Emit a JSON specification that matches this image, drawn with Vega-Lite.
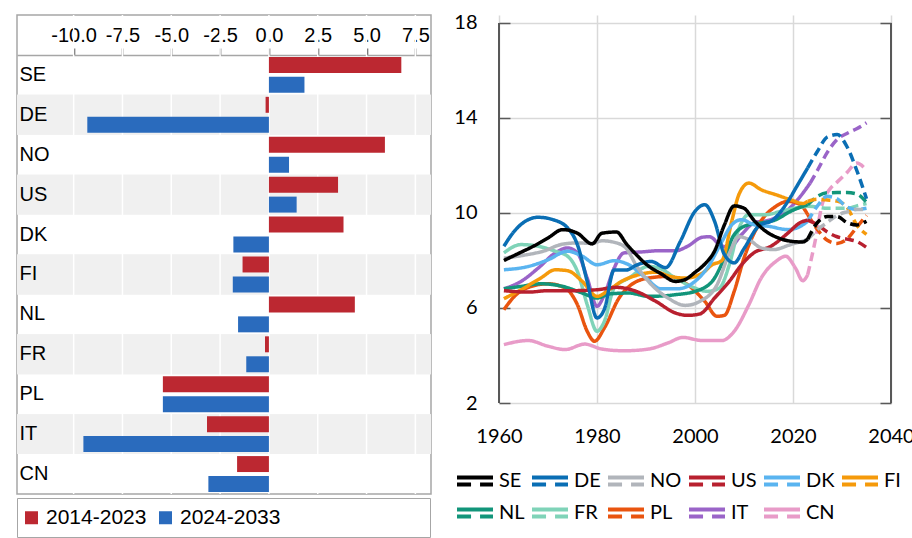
{
"$schema": "https://vega.github.io/schema/vega-lite/v6.json",
"padding": {"left": 15, "top": 12, "right": 0, "bottom": 0},
"background": "white",
"spacing": 21,
"config": {"font": "Liberation Sans"},
"resolve": {"scale": {"color": "independent", "strokeDash": "independent", "x": "independent", "y": "independent"}},
"datasets": {
"bars": [
{"country":"SE","period":"2014-2023","value":6.78},{"country":"SE","period":"2024-2033","value":1.82},
{"country":"DE","period":"2014-2023","value":-0.17},{"country":"DE","period":"2024-2033","value":-9.3},
{"country":"NO","period":"2014-2023","value":5.94},{"country":"NO","period":"2024-2033","value":1.03},
{"country":"US","period":"2014-2023","value":3.54},{"country":"US","period":"2024-2033","value":1.42},
{"country":"DK","period":"2014-2023","value":3.82},{"country":"DK","period":"2024-2033","value":-1.82},
{"country":"FI","period":"2014-2023","value":-1.35},{"country":"FI","period":"2024-2033","value":-1.85},
{"country":"NL","period":"2014-2023","value":4.4},{"country":"NL","period":"2024-2033","value":-1.58},
{"country":"FR","period":"2014-2023","value":-0.2},{"country":"FR","period":"2024-2033","value":-1.16},
{"country":"PL","period":"2014-2023","value":-5.43},{"country":"PL","period":"2024-2033","value":-5.43},
{"country":"IT","period":"2014-2023","value":-3.17},{"country":"IT","period":"2024-2033","value":-9.5},
{"country":"CN","period":"2014-2023","value":-1.63},{"country":"CN","period":"2024-2033","value":-3.1}
],
"ticks": [{"tick":-10},{"tick":-7.5},{"tick":-5},{"tick":-2.5},{"tick":0},{"tick":2.5},{"tick":5},{"tick":7.5}],
"lines": [
{"country":"CN","year":1961,"value":4.46,"type":"hist"},{"country":"CN","year":1966,"value":4.63,"type":"hist"},{"country":"CN","year":1970,"value":4.39,"type":"hist"},{"country":"CN","year":1973.5,"value":4.25,"type":"hist"},{"country":"CN","year":1977.5,"value":4.48,"type":"hist"},{"country":"CN","year":1981,"value":4.27,"type":"hist"},{"country":"CN","year":1985.5,"value":4.2,"type":"hist"},{"country":"CN","year":1990.5,"value":4.27,"type":"hist"},{"country":"CN","year":1994.5,"value":4.53,"type":"hist"},{"country":"CN","year":1997.5,"value":4.76,"type":"hist"},{"country":"CN","year":2001.5,"value":4.63,"type":"hist"},{"country":"CN","year":2005.5,"value":4.63,"type":"hist"},{"country":"CN","year":2008,"value":5.02,"type":"hist"},{"country":"CN","year":2011,"value":6.14,"type":"hist"},{"country":"CN","year":2013.5,"value":7.26,"type":"hist"},{"country":"CN","year":2016.5,"value":7.96,"type":"hist"},{"country":"CN","year":2018.5,"value":8.18,"type":"hist"},{"country":"CN","year":2020.5,"value":7.68,"type":"hist"},{"country":"CN","year":2022,"value":7.15,"type":"hist"},{"country":"CN","year":2023,"value":7.4,"type":"hist"},
{"country":"CN","year":2023,"value":7.4,"type":"proj"},{"country":"CN","year":2024.5,"value":8.8,"type":"proj"},{"country":"CN","year":2026,"value":10.4,"type":"proj"},{"country":"CN","year":2027.5,"value":11.0,"type":"proj"},{"country":"CN","year":2029,"value":11.3,"type":"proj"},{"country":"CN","year":2031,"value":11.7,"type":"proj"},{"country":"CN","year":2033,"value":12.1,"type":"proj"},{"country":"CN","year":2035,"value":11.8,"type":"proj"},
{"country":"IT","year":1961,"value":6.81,"type":"hist"},{"country":"IT","year":1964.5,"value":7.12,"type":"hist"},{"country":"IT","year":1968,"value":7.68,"type":"hist"},{"country":"IT","year":1971.5,"value":8.32,"type":"hist"},{"country":"IT","year":1974,"value":8.53,"type":"hist"},{"country":"IT","year":1976,"value":8.32,"type":"hist"},{"country":"IT","year":1978,"value":7.26,"type":"hist"},{"country":"IT","year":1980,"value":6.07,"type":"hist"},{"country":"IT","year":1981.5,"value":6.56,"type":"hist"},{"country":"IT","year":1983.5,"value":7.68,"type":"hist"},{"country":"IT","year":1985.5,"value":8.32,"type":"hist"},{"country":"IT","year":1989,"value":8.36,"type":"hist"},{"country":"IT","year":1992.5,"value":8.41,"type":"hist"},{"country":"IT","year":1996,"value":8.41,"type":"hist"},{"country":"IT","year":1998.5,"value":8.6,"type":"hist"},{"country":"IT","year":2001.5,"value":8.98,"type":"hist"},{"country":"IT","year":2003,"value":9.0,"type":"hist"},{"country":"IT","year":2005,"value":8.67,"type":"hist"},{"country":"IT","year":2007,"value":8.55,"type":"hist"},{"country":"IT","year":2009.5,"value":9.09,"type":"hist"},{"country":"IT","year":2012,"value":9.58,"type":"hist"},{"country":"IT","year":2015.5,"value":9.72,"type":"hist"},{"country":"IT","year":2019,"value":10.14,"type":"hist"},{"country":"IT","year":2021.5,"value":10.7,"type":"hist"},{"country":"IT","year":2023.5,"value":11.26,"type":"hist"},
{"country":"IT","year":2023.5,"value":11.26,"type":"proj"},{"country":"IT","year":2025,"value":11.8,"type":"proj"},{"country":"IT","year":2027,"value":12.55,"type":"proj"},{"country":"IT","year":2029,"value":13.1,"type":"proj"},{"country":"IT","year":2031,"value":13.35,"type":"proj"},{"country":"IT","year":2033,"value":13.55,"type":"proj"},{"country":"IT","year":2035,"value":13.8,"type":"proj"},
{"country":"PL","year":1961,"value":5.93,"type":"hist"},{"country":"PL","year":1963.5,"value":6.56,"type":"hist"},{"country":"PL","year":1966,"value":6.87,"type":"hist"},{"country":"PL","year":1970,"value":7.02,"type":"hist"},{"country":"PL","year":1973.5,"value":6.84,"type":"hist"},{"country":"PL","year":1976,"value":6.14,"type":"hist"},{"country":"PL","year":1978,"value":5.02,"type":"hist"},{"country":"PL","year":1979.5,"value":4.6,"type":"hist"},{"country":"PL","year":1981.5,"value":5.16,"type":"hist"},{"country":"PL","year":1984.5,"value":6.42,"type":"hist"},{"country":"PL","year":1987,"value":6.98,"type":"hist"},{"country":"PL","year":1990.5,"value":7.26,"type":"hist"},{"country":"PL","year":1994.5,"value":7.33,"type":"hist"},{"country":"PL","year":1998.5,"value":6.98,"type":"hist"},{"country":"PL","year":2002,"value":6.28,"type":"hist"},{"country":"PL","year":2004.5,"value":5.65,"type":"hist"},{"country":"PL","year":2006,"value":5.69,"type":"hist"},{"country":"PL","year":2008,"value":6.7,"type":"hist"},{"country":"PL","year":2010,"value":8.1,"type":"hist"},{"country":"PL","year":2013,"value":9.51,"type":"hist"},{"country":"PL","year":2016.5,"value":10.28,"type":"hist"},{"country":"PL","year":2019,"value":10.49,"type":"hist"},{"country":"PL","year":2021.5,"value":10.35,"type":"hist"},{"country":"PL","year":2023,"value":9.93,"type":"hist"},
{"country":"PL","year":2023,"value":9.93,"type":"proj"},{"country":"PL","year":2025,"value":9.3,"type":"proj"},{"country":"PL","year":2027,"value":8.85,"type":"proj"},{"country":"PL","year":2029,"value":8.72,"type":"proj"},{"country":"PL","year":2031,"value":8.9,"type":"proj"},{"country":"PL","year":2033,"value":9.4,"type":"proj"},{"country":"PL","year":2035,"value":9.9,"type":"proj"},
{"country":"FR","year":1961,"value":8.32,"type":"hist"},{"country":"FR","year":1964.5,"value":8.67,"type":"hist"},{"country":"FR","year":1968,"value":8.6,"type":"hist"},{"country":"FR","year":1971.5,"value":8.39,"type":"hist"},{"country":"FR","year":1974,"value":8.18,"type":"hist"},{"country":"FR","year":1976,"value":7.54,"type":"hist"},{"country":"FR","year":1978,"value":6.14,"type":"hist"},{"country":"FR","year":1980,"value":5.02,"type":"hist"},{"country":"FR","year":1981.5,"value":5.44,"type":"hist"},{"country":"FR","year":1983.5,"value":6.84,"type":"hist"},{"country":"FR","year":1986.5,"value":7.26,"type":"hist"},{"country":"FR","year":1990.5,"value":7.75,"type":"hist"},{"country":"FR","year":1993,"value":7.65,"type":"hist"},{"country":"FR","year":1996,"value":7.26,"type":"hist"},{"country":"FR","year":2000,"value":6.84,"type":"hist"},{"country":"FR","year":2002.5,"value":6.7,"type":"hist"},{"country":"FR","year":2005,"value":6.84,"type":"hist"},{"country":"FR","year":2007,"value":7.82,"type":"hist"},{"country":"FR","year":2009,"value":9.37,"type":"hist"},{"country":"FR","year":2011,"value":9.93,"type":"hist"},{"country":"FR","year":2014.5,"value":9.93,"type":"hist"},{"country":"FR","year":2017.5,"value":10.07,"type":"hist"},{"country":"FR","year":2020.5,"value":10.21,"type":"hist"},{"country":"FR","year":2023,"value":10.28,"type":"hist"},
{"country":"FR","year":2023,"value":10.28,"type":"proj"},{"country":"FR","year":2025,"value":10.25,"type":"proj"},{"country":"FR","year":2027,"value":10.2,"type":"proj"},{"country":"FR","year":2029,"value":10.2,"type":"proj"},{"country":"FR","year":2031,"value":10.2,"type":"proj"},{"country":"FR","year":2033,"value":10.3,"type":"proj"},{"country":"FR","year":2035,"value":10.4,"type":"proj"},
{"country":"NL","year":1961,"value":6.81,"type":"hist"},{"country":"NL","year":1964.5,"value":6.91,"type":"hist"},{"country":"NL","year":1968.5,"value":7.02,"type":"hist"},{"country":"NL","year":1973,"value":6.91,"type":"hist"},{"country":"NL","year":1977,"value":6.63,"type":"hist"},{"country":"NL","year":1980,"value":6.42,"type":"hist"},{"country":"NL","year":1982.5,"value":6.59,"type":"hist"},{"country":"NL","year":1986.5,"value":6.63,"type":"hist"},{"country":"NL","year":1990.5,"value":6.49,"type":"hist"},{"country":"NL","year":1996,"value":6.56,"type":"hist"},{"country":"NL","year":2000,"value":6.7,"type":"hist"},{"country":"NL","year":2003.5,"value":7.12,"type":"hist"},{"country":"NL","year":2006,"value":8.1,"type":"hist"},{"country":"NL","year":2008,"value":9.09,"type":"hist"},{"country":"NL","year":2011,"value":9.51,"type":"hist"},{"country":"NL","year":2013.5,"value":9.58,"type":"hist"},{"country":"NL","year":2016.5,"value":9.72,"type":"hist"},{"country":"NL","year":2019.5,"value":10.07,"type":"hist"},{"country":"NL","year":2023,"value":10.35,"type":"hist"},
{"country":"NL","year":2023,"value":10.35,"type":"proj"},{"country":"NL","year":2025,"value":10.7,"type":"proj"},{"country":"NL","year":2027,"value":10.85,"type":"proj"},{"country":"NL","year":2029,"value":10.86,"type":"proj"},{"country":"NL","year":2031,"value":10.86,"type":"proj"},{"country":"NL","year":2033,"value":10.8,"type":"proj"},{"country":"NL","year":2035,"value":10.45,"type":"proj"},
{"country":"FI","year":1961,"value":6.39,"type":"hist"},{"country":"FI","year":1964.5,"value":6.77,"type":"hist"},{"country":"FI","year":1968.5,"value":7.26,"type":"hist"},{"country":"FI","year":1971.5,"value":7.61,"type":"hist"},{"country":"FI","year":1974,"value":7.57,"type":"hist"},{"country":"FI","year":1977,"value":7.12,"type":"hist"},{"country":"FI","year":1980,"value":6.49,"type":"hist"},{"country":"FI","year":1982.5,"value":6.77,"type":"hist"},{"country":"FI","year":1985,"value":7.12,"type":"hist"},{"country":"FI","year":1988.5,"value":7.4,"type":"hist"},{"country":"FI","year":1992,"value":7.51,"type":"hist"},{"country":"FI","year":1995,"value":7.33,"type":"hist"},{"country":"FI","year":1998,"value":7.26,"type":"hist"},{"country":"FI","year":2001.5,"value":7.47,"type":"hist"},{"country":"FI","year":2003.5,"value":7.82,"type":"hist"},{"country":"FI","year":2005.5,"value":8.0,"type":"hist"},{"country":"FI","year":2007.5,"value":9.65,"type":"hist"},{"country":"FI","year":2009,"value":10.8,"type":"hist"},{"country":"FI","year":2011,"value":11.26,"type":"hist"},{"country":"FI","year":2013.5,"value":10.98,"type":"hist"},{"country":"FI","year":2016.5,"value":10.77,"type":"hist"},{"country":"FI","year":2019.5,"value":10.56,"type":"hist"},{"country":"FI","year":2022,"value":10.4,"type":"hist"},{"country":"FI","year":2023,"value":10.49,"type":"hist"},
{"country":"FI","year":2023,"value":10.49,"type":"proj"},{"country":"FI","year":2025,"value":10.58,"type":"proj"},{"country":"FI","year":2027,"value":10.55,"type":"proj"},{"country":"FI","year":2029,"value":10.5,"type":"proj"},{"country":"FI","year":2031,"value":10.25,"type":"proj"},{"country":"FI","year":2033,"value":9.5,"type":"proj"},{"country":"FI","year":2035,"value":9.1,"type":"proj"},
{"country":"DK","year":1961,"value":7.61,"type":"hist"},{"country":"DK","year":1966,"value":7.75,"type":"hist"},{"country":"DK","year":1970,"value":8.03,"type":"hist"},{"country":"DK","year":1974,"value":8.39,"type":"hist"},{"country":"DK","year":1977,"value":8.18,"type":"hist"},{"country":"DK","year":1980,"value":7.82,"type":"hist"},{"country":"DK","year":1983.5,"value":7.99,"type":"hist"},{"country":"DK","year":1986.5,"value":7.82,"type":"hist"},{"country":"DK","year":1990,"value":7.26,"type":"hist"},{"country":"DK","year":1993,"value":6.81,"type":"hist"},{"country":"DK","year":1996.5,"value":6.81,"type":"hist"},{"country":"DK","year":2000,"value":7.12,"type":"hist"},{"country":"DK","year":2002.5,"value":7.68,"type":"hist"},{"country":"DK","year":2005.5,"value":8.8,"type":"hist"},{"country":"DK","year":2007.5,"value":9.5,"type":"hist"},{"country":"DK","year":2009.5,"value":9.72,"type":"hist"},{"country":"DK","year":2012,"value":9.51,"type":"hist"},{"country":"DK","year":2015,"value":9.44,"type":"hist"},{"country":"DK","year":2019,"value":9.3,"type":"hist"},{"country":"DK","year":2022,"value":9.5,"type":"hist"},{"country":"DK","year":2023,"value":9.65,"type":"hist"},
{"country":"DK","year":2023,"value":9.65,"type":"proj"},{"country":"DK","year":2025,"value":10.3,"type":"proj"},{"country":"DK","year":2027,"value":10.7,"type":"proj"},{"country":"DK","year":2029,"value":10.6,"type":"proj"},{"country":"DK","year":2031,"value":10.25,"type":"proj"},{"country":"DK","year":2033,"value":10.15,"type":"proj"},{"country":"DK","year":2035,"value":10.2,"type":"proj"},
{"country":"US","year":1961,"value":6.73,"type":"hist"},{"country":"US","year":1966,"value":6.67,"type":"hist"},{"country":"US","year":1970,"value":6.73,"type":"hist"},{"country":"US","year":1975,"value":6.73,"type":"hist"},{"country":"US","year":1980,"value":6.77,"type":"hist"},{"country":"US","year":1984,"value":6.87,"type":"hist"},{"country":"US","year":1988,"value":6.7,"type":"hist"},{"country":"US","year":1992,"value":6.28,"type":"hist"},{"country":"US","year":1996,"value":5.79,"type":"hist"},{"country":"US","year":1998.5,"value":5.69,"type":"hist"},{"country":"US","year":2001,"value":5.75,"type":"hist"},{"country":"US","year":2004,"value":6.42,"type":"hist"},{"country":"US","year":2007,"value":7.12,"type":"hist"},{"country":"US","year":2009.5,"value":7.82,"type":"hist"},{"country":"US","year":2012,"value":8.32,"type":"hist"},{"country":"US","year":2015.5,"value":8.6,"type":"hist"},{"country":"US","year":2019,"value":9.16,"type":"hist"},{"country":"US","year":2021.5,"value":9.6,"type":"hist"},{"country":"US","year":2023,"value":9.7,"type":"hist"},
{"country":"US","year":2023,"value":9.7,"type":"proj"},{"country":"US","year":2025,"value":9.5,"type":"proj"},{"country":"US","year":2027,"value":9.2,"type":"proj"},{"country":"US","year":2029,"value":9.0,"type":"proj"},{"country":"US","year":2031,"value":8.9,"type":"proj"},{"country":"US","year":2033,"value":8.8,"type":"proj"},{"country":"US","year":2035,"value":8.55,"type":"proj"},
{"country":"NO","year":1961,"value":8.1,"type":"hist"},{"country":"NO","year":1965,"value":8.22,"type":"hist"},{"country":"NO","year":1969,"value":8.39,"type":"hist"},{"country":"NO","year":1973,"value":8.69,"type":"hist"},{"country":"NO","year":1976,"value":8.74,"type":"hist"},{"country":"NO","year":1979,"value":8.72,"type":"hist"},{"country":"NO","year":1981,"value":8.83,"type":"hist"},{"country":"NO","year":1984,"value":8.74,"type":"hist"},{"country":"NO","year":1986,"value":8.5,"type":"hist"},{"country":"NO","year":1988,"value":7.8,"type":"hist"},{"country":"NO","year":1990.5,"value":7.12,"type":"hist"},{"country":"NO","year":1994.5,"value":6.42,"type":"hist"},{"country":"NO","year":1998,"value":6.11,"type":"hist"},{"country":"NO","year":2001,"value":6.28,"type":"hist"},{"country":"NO","year":2004.5,"value":6.98,"type":"hist"},{"country":"NO","year":2007,"value":8.3,"type":"hist"},{"country":"NO","year":2009,"value":9.0,"type":"hist"},{"country":"NO","year":2011,"value":8.88,"type":"hist"},{"country":"NO","year":2013.5,"value":8.53,"type":"hist"},{"country":"NO","year":2016,"value":8.46,"type":"hist"},{"country":"NO","year":2019.5,"value":8.67,"type":"hist"},{"country":"NO","year":2023,"value":8.88,"type":"hist"},
{"country":"NO","year":2023,"value":8.88,"type":"proj"},{"country":"NO","year":2025,"value":9.3,"type":"proj"},{"country":"NO","year":2027,"value":9.6,"type":"proj"},{"country":"NO","year":2029,"value":9.9,"type":"proj"},{"country":"NO","year":2031,"value":10.05,"type":"proj"},{"country":"NO","year":2033,"value":10.15,"type":"proj"},{"country":"NO","year":2035,"value":10.15,"type":"proj"},
{"country":"DE","year":1961,"value":8.6,"type":"hist"},{"country":"DE","year":1963,"value":9.2,"type":"hist"},{"country":"DE","year":1965,"value":9.6,"type":"hist"},{"country":"DE","year":1968,"value":9.82,"type":"hist"},{"country":"DE","year":1971,"value":9.72,"type":"hist"},{"country":"DE","year":1974,"value":9.37,"type":"hist"},{"country":"DE","year":1976,"value":8.67,"type":"hist"},{"country":"DE","year":1978,"value":7.12,"type":"hist"},{"country":"DE","year":1980,"value":5.58,"type":"hist"},{"country":"DE","year":1981.5,"value":5.95,"type":"hist"},{"country":"DE","year":1983.5,"value":7.6,"type":"hist"},{"country":"DE","year":1986,"value":7.6,"type":"hist"},{"country":"DE","year":1988,"value":7.8,"type":"hist"},{"country":"DE","year":1991,"value":7.96,"type":"hist"},{"country":"DE","year":1994,"value":7.7,"type":"hist"},{"country":"DE","year":1997,"value":8.8,"type":"hist"},{"country":"DE","year":2000,"value":10.07,"type":"hist"},{"country":"DE","year":2002,"value":10.35,"type":"hist"},{"country":"DE","year":2004,"value":9.65,"type":"hist"},{"country":"DE","year":2006,"value":8.25,"type":"hist"},{"country":"DE","year":2008,"value":7.9,"type":"hist"},{"country":"DE","year":2010,"value":8.5,"type":"hist"},{"country":"DE","year":2013,"value":9.45,"type":"hist"},{"country":"DE","year":2016,"value":9.72,"type":"hist"},{"country":"DE","year":2019,"value":10.5,"type":"hist"},{"country":"DE","year":2021,"value":11.2,"type":"hist"},{"country":"DE","year":2023,"value":11.9,"type":"hist"},
{"country":"DE","year":2023,"value":11.9,"type":"proj"},{"country":"DE","year":2025,"value":12.6,"type":"proj"},{"country":"DE","year":2027,"value":13.2,"type":"proj"},{"country":"DE","year":2029,"value":13.3,"type":"proj"},{"country":"DE","year":2031,"value":12.8,"type":"proj"},{"country":"DE","year":2033,"value":11.8,"type":"proj"},{"country":"DE","year":2035,"value":10.6,"type":"proj"},
{"country":"SE","year":1961,"value":8.0,"type":"hist"},{"country":"SE","year":1964,"value":8.3,"type":"hist"},{"country":"SE","year":1967,"value":8.6,"type":"hist"},{"country":"SE","year":1970,"value":8.95,"type":"hist"},{"country":"SE","year":1973,"value":9.3,"type":"hist"},{"country":"SE","year":1976,"value":9.15,"type":"hist"},{"country":"SE","year":1979,"value":8.7,"type":"hist"},{"country":"SE","year":1981,"value":9.15,"type":"hist"},{"country":"SE","year":1984,"value":9.2,"type":"hist"},{"country":"SE","year":1986,"value":8.7,"type":"hist"},{"country":"SE","year":1988,"value":8.25,"type":"hist"},{"country":"SE","year":1990,"value":7.85,"type":"hist"},{"country":"SE","year":1993,"value":7.45,"type":"hist"},{"country":"SE","year":1996,"value":7.12,"type":"hist"},{"country":"SE","year":1998,"value":7.2,"type":"hist"},{"country":"SE","year":2000,"value":7.5,"type":"hist"},{"country":"SE","year":2002,"value":7.85,"type":"hist"},{"country":"SE","year":2004,"value":8.4,"type":"hist"},{"country":"SE","year":2006,"value":9.5,"type":"hist"},{"country":"SE","year":2008,"value":10.3,"type":"hist"},{"country":"SE","year":2010,"value":10.2,"type":"hist"},{"country":"SE","year":2012,"value":9.7,"type":"hist"},{"country":"SE","year":2014,"value":9.3,"type":"hist"},{"country":"SE","year":2017,"value":8.95,"type":"hist"},{"country":"SE","year":2020,"value":8.8,"type":"hist"},{"country":"SE","year":2022,"value":8.78,"type":"hist"},{"country":"SE","year":2023,"value":8.9,"type":"hist"},
{"country":"SE","year":2023,"value":8.9,"type":"proj"},{"country":"SE","year":2025,"value":9.6,"type":"proj"},{"country":"SE","year":2027,"value":9.85,"type":"proj"},{"country":"SE","year":2029,"value":9.85,"type":"proj"},{"country":"SE","year":2031,"value":9.6,"type":"proj"},{"country":"SE","year":2033,"value":9.5,"type":"proj"},{"country":"SE","year":2035,"value":9.65,"type":"proj"}
]
},
"hconcat": [
{
"width": 414,
"height": 479,
"data": {"name": "bars"},
"view": {"stroke": "#a6a6a6", "strokeWidth": 1.5},
"layer": [
{
"transform": [{"filter": {"field": "country", "oneOf": ["DE","US","FI","FR","IT"]}}],
"mark": {"type": "rect", "color": "#f0f0f0"},
"encoding": {
"y": {"field": "country", "type": "nominal", "title": null,
"scale": {"domain": ["SE","DE","NO","US","DK","FI","NL","FR","PL","IT","CN"], "paddingInner": 0, "paddingOuter": 0.5, "align": 1},
"axis": {"orient": "left", "domain": false, "ticks": false, "labelAlign": "left", "labelPadding": -2, "labelFontSize": 20, "labelFont": "Liberation Sans", "labelColor": "black", "grid": false}}
}
},
{
"data": {"name": "ticks"},
"mark": {"type": "rule", "color": "white", "strokeWidth": 1.5},
"encoding": {
"x": {"field": "tick", "type": "quantitative", "title": null,
"scale": {"domain": [-12.9, 8.3], "nice": false, "zero": false},
"axis": {"orient": "top", "offset": -40, "values": [-10,-7.5,-5,-2.5,0,2.5,5,7.5], "format": ".1f", "labelExpr": "replace(datum.label, '\u2212', '-')", "labelFontSize": 20, "labelFont": "Liberation Sans", "labelColor": "black", "labelPadding": 3, "labelOverlap": false, "labelFlush": false, "tickSize": 7, "tickColor": "#444444", "tickWidth": 1.5, "domainColor": "#a6a6a6", "domainWidth": 1.5, "grid": false}}
}
},
{
"mark": {"type": "bar"},
"encoding": {
"x": {"field": "value", "type": "quantitative", "title": null},
"y": {"field": "country", "type": "nominal", "title": null,
"scale": {"domain": ["SE","DE","NO","US","DK","FI","NL","FR","PL","IT","CN"], "paddingInner": 0, "paddingOuter": 0.5, "align": 1},
"axis": {"orient": "left", "domain": false, "ticks": false, "labelAlign": "left", "labelPadding": -2, "labelFontSize": 20, "labelFont": "Liberation Sans", "labelColor": "black", "grid": false}},
"yOffset": {"field": "period", "type": "nominal", "scale": {"domain": ["2014-2023","2024-2033"], "paddingInner": 0.2, "paddingOuter": 0.1}},
"color": {"field": "period", "type": "nominal",
"scale": {"domain": ["2014-2023","2024-2033"], "range": ["#bc2831","#2a6bbd"]},
"legend": {"orient": "none", "legendX": 0, "legendY": 483, "direction": "horizontal", "title": null, "strokeColor": "#a6a6a6", "padding": 9, "symbolType": "square", "symbolSize": 169, "symbolStrokeWidth": 0, "symbolOpacity": 1, "symbolOffset": -5, "labelFontSize": 21, "labelFont": "Liberation Sans", "labelColor": "black", "labelOffset": 4, "columnPadding": 12, "labelLimit": 500,
"labelExpr": "datum.label == '2024-2033' ? pad(datum.label, 33, '\u00a0') + '\u200b' : datum.label"}}
}
}
]
},
{
"width": 392,
"height": 388,
"data": {"name": "lines"},
"view": {"stroke": null},
"layer": [
{
"mark": {"type": "line", "interpolate": "monotone", "strokeWidth": 3.5},
"encoding": {
"x": {"field": "year", "type": "quantitative", "title": null,
"scale": {"domain": [1960, 2040], "nice": false, "zero": false},
"axis": {"values": [1960,1980,2000,2020,2040], "format": "d", "domain": false, "ticks": false, "grid": true, "gridColor": "#d9d9d9", "gridWidth": 1.5, "labelPadding": 23, "labelFontSize": 20, "labelFont": "Lato", "labelColor": "black", "labelFlush": false, "labelOverlap": false}},
"y": {"field": "value", "type": "quantitative", "title": null,
"scale": {"domain": [2, 18.3368], "nice": false, "zero": false},
"axis": {"orient": "left", "values": [2,6,10,14,18], "grid": true, "gridColor": "#d9d9d9", "gridWidth": 1.5, "domain": false, "tickSize": -11, "tickColor": "#595959", "tickWidth": 1.5, "labelPadding": 33, "labelFontSize": 20, "labelFont": "Lato", "labelColor": "black"}},
"color": {"field": "country", "type": "nominal",
"scale": {"domain": ["SE","DE","NO","US","DK","FI","NL","FR","PL","IT","CN"],
"range": ["#000000","#0a6eb4","#b1b5bb","#b8202f","#5ab4f0","#f59a0b","#12957a","#7fd3b8","#e9540f","#9a64c8","#e89bc8"]},
"legend": {"orient": "none", "legendX": -44, "legendY": 446, "direction": "horizontal", "columns": 6, "gridAlign": "none", "title": null, "padding": 0,
"symbolType": "M-1,-0.2H1M-1,0.2H-0.22M0.28,0.2H1", "symbolSize": 1296, "symbolStrokeWidth": 4, "symbolFillColor": "transparent", "symbolDash": [1,0],
"labelFontSize": 20, "labelFont": "Lato", "labelColor": "black", "labelOffset": 4, "columnPadding": -1, "rowPadding": 0}},
"strokeDash": {"field": "type", "type": "nominal", "scale": {"domain": ["hist","proj"], "range": [[1,0],[9,5]]}, "legend": null}
}
},
{
"mark": {"type": "rule", "color": "#595959", "strokeWidth": 1.5},
"encoding": {
"x": {"datum": 2040, "type": "quantitative"},
"y": {"datum": 2, "type": "quantitative",
"axis": {"orient": "right", "values": [2,6,10,14,18], "labels": false, "grid": false, "title": null, "domain": false, "tickSize": -11, "tickColor": "#595959", "tickWidth": 1.5}},
"y2": {"datum": 18}
}
},
{
"mark": {"type": "rule", "color": "#595959", "strokeWidth": 1.5},
"encoding": {
"x": {"datum": 1960, "type": "quantitative"},
"y": {"datum": 2, "type": "quantitative", "axis": null},
"y2": {"datum": 18}
}
}
],
"resolve": {"scale": {"y": "shared"}, "axis": {"y": "independent"}}
}
]
}
